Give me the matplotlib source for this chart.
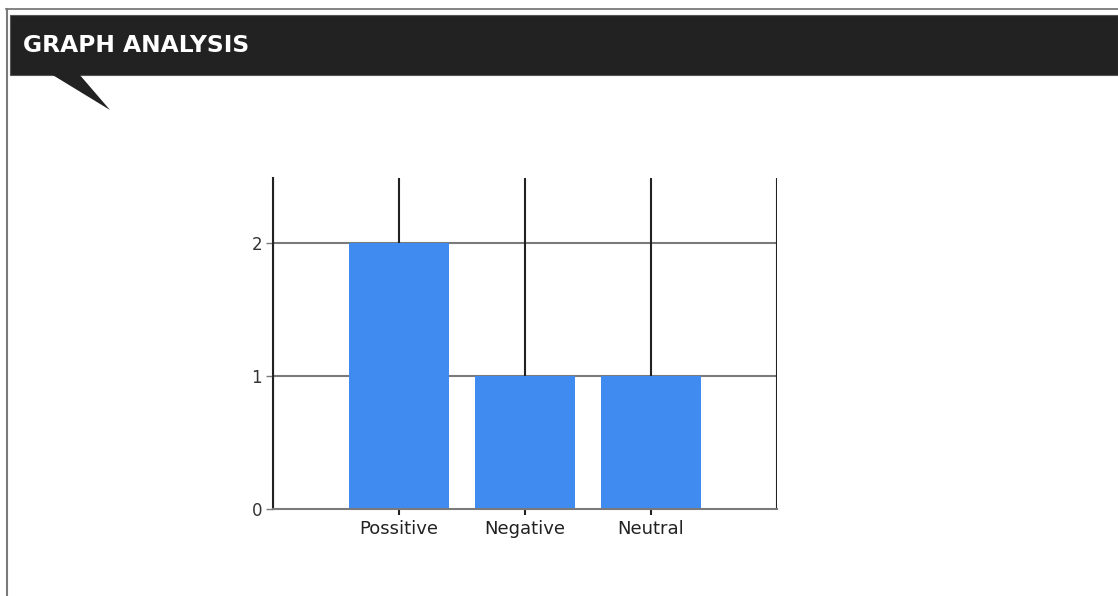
import matplotlib
matplotlib.use("Agg")
import matplotlib.pyplot as plt
from matplotlib.patches import Rectangle, Polygon

plt.rcParams["font.family"] = ["DejaVu Sans", "Liberation Sans"]

CATEGORIES = ["Possitive", "Negative", "Neutral"]
COUNTS = [2, 1, 1]
Y_TICKS = [0, 1, 2]
HEADER_TITLE = "GRAPH ANALYSIS"

BAR_COLOR = "#3f8bef"
W, H = 1118, 596

fig = plt.figure(figsize=(W / 100, H / 100), dpi=100)

# page decoration in pixel coordinates
bg = fig.add_axes([0, 0, 1, 1])
bg.set_xlim(0, W)
bg.set_ylim(H, 0)
bg.axis("off")
bg.plot([6, W], [9, 9], color="#6e6e6e", linewidth=1.2)
bg.plot([6.5, 6.5], [9, H], color="#7a7a7a", linewidth=1.5)
bg.add_patch(Rectangle((10, 15), W - 10, 60, facecolor="#222222",
                       edgecolor="#555555", linewidth=0.8))
bg.add_patch(Polygon([(51, 74), (79, 74), (110, 110)], closed=True,
                     facecolor="#222222", edgecolor="none"))
bg.text(23, 45, HEADER_TITLE, color="white", fontsize=16.8,
        fontweight="bold", family="DejaVu Sans",
        va="center", ha="left")

# chart
ax = fig.add_axes([273 / W, 1 - 509 / H, (777 - 273) / W, (509 - 178) / H])
x = list(range(len(CATEGORIES)))
ax.bar(x, COUNTS, width=0.8, color=BAR_COLOR, zorder=3)

ax.set_xlim(-1, len(CATEGORIES))
ax.set_ylim(0, 2.49)
ax.set_yticks(Y_TICKS)
ax.set_xticks(x)
ax.set_xticklabels(CATEGORIES)

for yv in Y_TICKS[1:]:
    ax.axhline(yv, color="#7a7a7a", linewidth=1.5, zorder=1)
for xv in range(-1, len(CATEGORIES) + 1):
    ax.axvline(xv, color="#222222", linewidth=1.5, zorder=2)

for side in ["top", "right"]:
    ax.spines[side].set_visible(False)
ax.spines["left"].set_color("#222222")
ax.spines["left"].set_linewidth(1.5)
ax.spines["bottom"].set_color("#7a7a7a")
ax.spines["bottom"].set_linewidth(1.5)
ax.spines["bottom"].set_zorder(4)

ax.tick_params(axis="y", length=5, width=1, color="#7a7a7a",
               labelsize=12, labelcolor="#333333", pad=3)
ax.tick_params(axis="x", length=4, width=1.5, color="#222222",
               labelsize=13, labelcolor="#222222", pad=4)

fig.savefig("out.png", dpi=100)
